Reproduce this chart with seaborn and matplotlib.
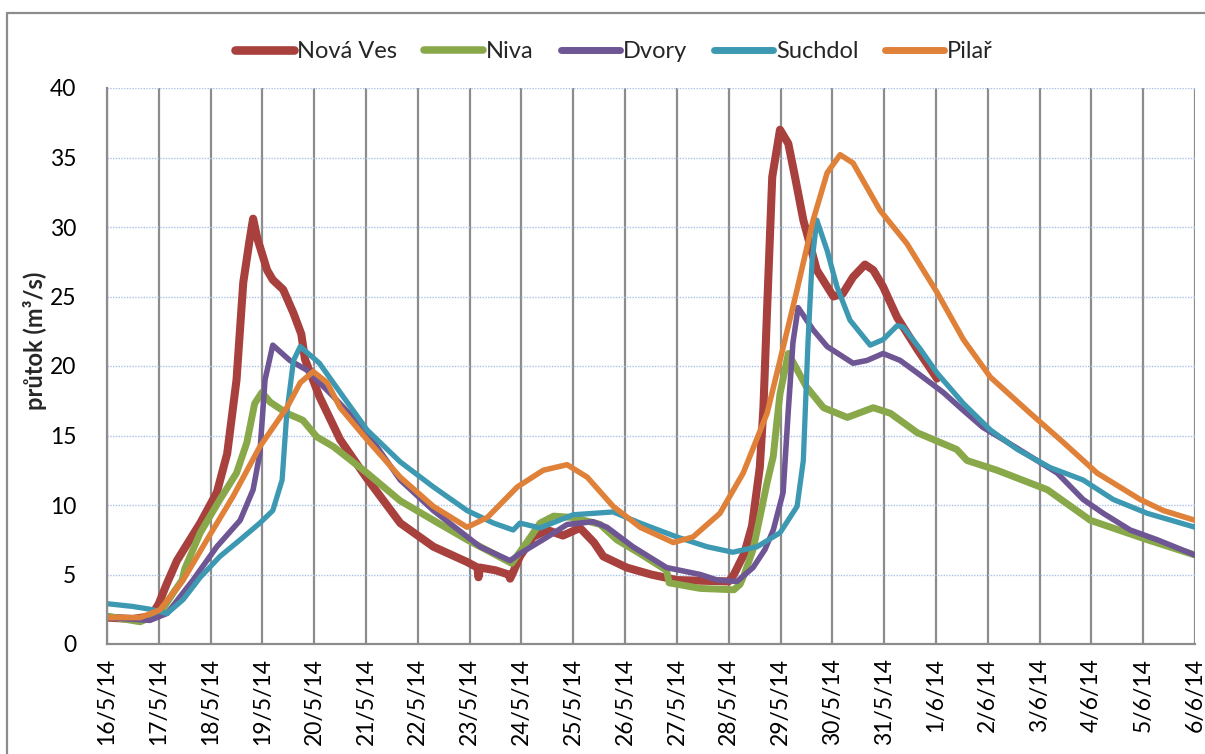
import numpy as np
import pandas as pd
import matplotlib
matplotlib.use("Agg")
import matplotlib.pyplot as plt
from matplotlib.lines import Line2D
import seaborn as sns

# ---- data: days since 16/5/2014 00:00 and discharge (m3/s) ----
nova_ves_t = [0, 0.5, 0.85, 1.0, 1.15, 1.35, 1.55, 1.8, 2.12, 2.32, 2.5, 2.63, 2.75, 2.82, 2.9,
              3.09, 3.2, 3.4, 3.6, 3.75, 3.82, 4.1, 4.5, 5.0, 5.66, 6.3, 6.95, 7.15, 7.17, 7.2,
              7.5, 7.75, 7.78, 7.82, 7.97, 8.22, 8.5, 8.8, 9.13, 9.4, 9.58, 10.03, 10.5, 11.0,
              12.0, 12.1, 12.3, 12.45, 12.6, 12.67, 12.74, 12.84, 12.99, 13.15, 13.28, 13.44,
              13.7, 14.02, 14.2, 14.4, 14.63, 14.79, 14.98, 15.25, 15.64, 16.02]
nova_ves_q = [1.9, 1.8, 2.0, 2.9, 4.3, 6.0, 7.2, 8.7, 10.9, 13.7, 19.0, 26.0, 29.0, 30.6, 29.2,
              26.9, 26.2, 25.5, 23.8, 22.3, 20.5, 17.8, 14.7, 12.0, 8.7, 7.0, 5.9, 5.5, 4.8, 5.5,
              5.3, 5.0, 4.7, 5.0, 6.3, 7.7, 8.2, 7.8, 8.35, 7.3, 6.3, 5.5, 5.0, 4.6,
              4.5, 5.0, 6.5, 8.5, 12.7, 17.0, 24.0, 33.6, 37.0, 36.0, 33.6, 30.5,
              26.9, 25.0, 25.2, 26.4, 27.3, 26.9, 25.7, 23.5, 21.2, 19.1]

niva_t = [0, 0.64, 1.02, 1.3, 1.45, 1.5, 1.8, 2.18, 2.5, 2.7, 2.85, 2.99, 3.15, 3.47, 3.78,
          4.05, 4.37, 5.02, 5.66, 6.3, 6.95, 7.46, 7.81, 8.1, 8.36, 8.62, 9.0, 9.52, 9.84,
          10.29, 10.8, 10.85, 11.45, 12.1, 12.22, 12.3, 12.47, 12.55, 12.74, 12.86, 12.93,
          12.99, 13.15, 13.5, 13.83, 14.29, 14.79, 15.12, 15.64, 16.4, 16.6, 17.18, 18.15,
          18.98, 20.08, 21.0]
niva_q = [2.0, 1.6, 2.2, 3.8, 4.6, 5.4, 8.0, 10.4, 12.3, 14.5, 17.3, 18.1, 17.4, 16.6, 16.1,
          14.9, 14.2, 12.3, 10.3, 8.9, 7.5, 6.5, 5.8, 7.3, 8.7, 9.2, 9.1, 8.6, 7.5,
          6.5, 5.3, 4.4, 4.0, 3.9, 4.3, 5.0, 6.8, 8.2, 11.6, 13.5, 16.0,
          18.0, 20.9, 18.5, 17.0, 16.3, 17.0, 16.6, 15.2, 14.0, 13.2, 12.5, 11.1,
          8.9, 7.5, 6.4]

dvory_t = [0, 0.83, 1.16, 1.66, 2.12, 2.57, 2.82, 2.95, 3.05, 3.2, 3.53, 3.86, 4.37, 5.02,
           5.66, 6.3, 7.2, 7.78, 7.97, 8.5, 8.88, 9.38, 9.65, 10.15, 10.8, 11.45, 11.78, 12.16,
           12.47, 12.7, 12.86, 13.05, 13.15, 13.24, 13.34, 13.63, 13.9, 14.4, 14.67, 14.98,
           15.31, 15.64, 16.14, 16.53, 16.9, 17.3, 17.82, 18.34, 18.84, 19.23, 19.75, 20.27, 21.0]
dvory_q = [1.9, 1.7, 2.2, 4.6, 7.0, 8.9, 11.1, 13.7, 19.0, 21.5, 20.4, 19.7, 17.8, 15.2,
           11.8, 9.6, 7.0, 6.0, 6.5, 7.7, 8.6, 8.8, 8.4, 7.0, 5.5, 5.0, 4.6, 4.5,
           5.5, 6.8, 8.2, 10.9, 16.8, 21.7, 24.2, 22.6, 21.4, 20.2, 20.4, 20.9,
           20.4, 19.5, 18.1, 16.8, 15.6, 14.7, 13.5, 12.3, 10.4, 9.4, 8.2, 7.5, 6.4]

suchdol_t = [0, 0.5, 0.83, 1.16, 1.47, 1.8, 2.18, 2.57, 2.95, 3.2, 3.38, 3.47, 3.6, 3.73, 4.1,
             4.5, 5.02, 5.66, 6.3, 6.95, 7.46, 7.84, 7.97, 8.36, 9.0, 9.77, 10.29, 11.0, 11.58,
             12.08, 12.55, 12.99, 13.32, 13.44, 13.53, 13.61, 13.7, 13.9, 14.09, 14.34, 14.73,
             14.98, 15.25, 15.37, 15.7, 16.02, 16.53, 17.05, 17.57, 18.2, 18.84, 19.42, 20.08, 21.0]
suchdol_q = [2.9, 2.7, 2.5, 2.2, 3.2, 4.8, 6.3, 7.5, 8.7, 9.6, 11.8, 16.6, 20.4, 21.4, 20.2,
             18.1, 15.4, 13.1, 11.3, 9.6, 8.7, 8.2, 8.7, 8.35, 9.3, 9.5, 8.7, 7.7, 7.0,
             6.6, 7.0, 8.0, 9.9, 13.2, 21.7, 27.6, 30.5, 28.3, 25.7, 23.3, 21.5,
             21.9, 22.9, 22.8, 21.2, 19.5, 17.3, 15.4, 14.0, 12.7, 11.8, 10.4, 9.4, 8.4]

pilar_t = [0, 0.64, 1.02, 1.47, 1.93, 2.43, 2.95, 3.47, 3.73, 3.98, 4.25, 4.5, 5.02, 5.66,
           6.3, 6.95, 7.34, 7.92, 8.42, 8.88, 9.27, 9.77, 10.29, 10.93, 11.31, 11.83, 12.28,
           12.74, 12.99, 13.32, 13.63, 13.9, 14.15, 14.4, 14.92, 15.44, 16.02, 16.53, 17.05,
           17.82, 18.46, 19.11, 19.94, 20.39, 21.0]
pilar_q = [1.9, 1.9, 2.45, 4.6, 7.5, 10.6, 14.2, 17.0, 18.8, 19.6, 18.8, 17.0, 14.7, 12.0,
           9.9, 8.4, 9.1, 11.3, 12.5, 12.9, 12.0, 9.9, 8.4, 7.3, 7.7, 9.4, 12.3,
           16.6, 20.4, 25.5, 30.5, 33.9, 35.2, 34.6, 31.2, 28.8, 25.3, 21.9, 19.2,
           16.6, 14.5, 12.3, 10.4, 9.6, 8.9]

stations = ["Nová Ves", "Niva", "Dvory", "Suchdol", "Pilař"]
colors = ["#A8403D", "#88A84A", "#6E5593", "#3D98B2", "#E0813A"]
widths = [5.8, 5.0, 4.0, 3.8, 4.0]

start_day = pd.Timestamp("2014-05-16")
n_days = 21
tick_labels = ["16/5/14", "17/5/14", "18/5/14", "19/5/14", "20/5/14", "21/5/14", "22/5/14",
               "23/5/14", "24/5/14", "25/5/14", "26/5/14", "27/5/14", "28/5/14", "29/5/14",
               "30/5/14", "31/5/14", "1/6/14", "2/6/14", "3/6/14", "4/6/14", "5/6/14", "6/6/14"]
y_ticks = [0, 5, 10, 15, 20, 25, 30, 35, 40]

series = [(nova_ves_t, nova_ves_q), (niva_t, niva_q), (dvory_t, dvory_q),
          (suchdol_t, suchdol_q), (pilar_t, pilar_q)]

frames = []
for name, (t, q) in zip(stations, series):
    frames.append(pd.DataFrame({
        "datum": start_day + pd.to_timedelta(np.asarray(t), unit="D"),
        "průtok": q,
        "stanice": name,
    }))
data = pd.concat(frames, ignore_index=True)

# ---- figure ----
sns.set_theme(style="white")
plt.rcParams["font.family"] = ["Lato", "DejaVu Sans"]

W, H = 1205, 754
fig = plt.figure(figsize=(W / 100, H / 100), dpi=100)
fig.patch.set_facecolor("white")
ax = fig.add_axes([107 / W, 1 - 644 / H, (1195 - 107) / W, (644 - 88) / H])

for name, color, lw in zip(stations, colors, widths):
    sub = data[data["stanice"] == name]
    sns.lineplot(data=sub, x="datum", y="průtok", color=color, linewidth=lw,
                 estimator=None, ax=ax, label=name,
                 solid_joinstyle="round", solid_capstyle="round")

tick_dates = pd.date_range(start_day, periods=n_days + 1, freq="D")
ax.set_xlim(tick_dates[0], tick_dates[-1])
ax.set_ylim(0, 40)
ax.set_xticks(tick_dates)
ax.set_xticklabels(tick_labels, rotation=90, fontsize=16.5)
ax.set_yticks(y_ticks)
ax.set_yticklabels([str(v) for v in y_ticks], fontsize=16.5)
ax.tick_params(axis="both", length=0, colors="black")
ax.tick_params(axis="y", pad=22)
ax.tick_params(axis="x", pad=10)

ax.set_axisbelow(True)
ax.grid(axis="x", color="#8c8c8c", linewidth=1.6, linestyle="-")
ax.grid(axis="y", color="#a9c1e6", linewidth=1.0, linestyle=(0, (1, 1)))

for side in ["top", "right"]:
    ax.spines[side].set_visible(False)
for side in ["left", "bottom"]:
    ax.spines[side].set_color("#8c8c8c")
    ax.spines[side].set_linewidth(1.6)

ax.set_xlabel("")
ax.set_ylabel("")
fig.text(35 / W, 1 - 341 / H, "průtok (m³/s)", rotation=90, ha="center", va="center",
         fontsize=17, fontweight="bold")

leg = ax.legend(loc="center", bbox_to_anchor=(614 / W, 1 - 52 / H),
                bbox_transform=fig.transFigure, ncol=5, frameon=False,
                fontsize=17, handlelength=2.5, handletextpad=0.12, columnspacing=1.15)
for h, lw in zip(leg.get_lines(), [6.2, 5.4, 5.0, 5.0, 5.0]):
    h.set_linewidth(lw)
    h.set_solid_capstyle("round")

# chart area frame
fig.add_artist(Line2D([7 / W, 7 / W], [0, 1 - 13 / H], transform=fig.transFigure,
                      color="#8c8c8c", linewidth=1.6))
fig.add_artist(Line2D([7 / W, 1], [1 - 13 / H, 1 - 13 / H], transform=fig.transFigure,
                      color="#8c8c8c", linewidth=1.6))

fig.savefig("out.png", dpi=100, facecolor="white")
